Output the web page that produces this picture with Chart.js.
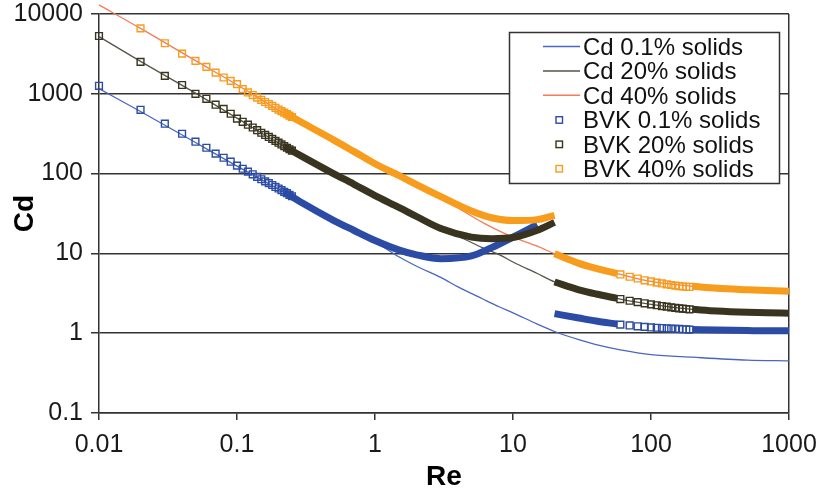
<!DOCTYPE html>
<html>
<head>
<meta charset="utf-8">
<script src="https://cdn.jsdelivr.net/npm/chart.js@4.4.0/dist/chart.umd.min.js"></script>
<style>
  html, body { margin: 0; padding: 0; background: #fff; }
</style>
</head>
<body>
<canvas id="Chart" width="823" height="495"></canvas>
<script>
var xTicks = [0.01, 0.1, 1, 10, 100, 1000];
var yTicks = [0.1, 1, 10, 100, 1000, 10000];

// Cd model curves
var cdRe = [0.01, 0.02, 0.05, 0.1, 0.2, 0.5, 1, 1.5, 2, 3, 4, 6, 8, 10, 15, 20, 30, 40, 60, 100, 200, 500, 1000];
var cd01 = [1160, 600, 245, 124, 64, 27.5, 14, 9.0, 6.9, 5.0, 3.8, 2.7, 2.13, 1.8, 1.3, 1.05, 0.83, 0.72, 0.62, 0.54, 0.5, 0.46, 0.45];
var cd20 = [5200, 2550, 1020, 495, 242, 100, 52, 37.5, 29, 21, 16.5, 11.8, 9.6, 7.8, 5.6, 4.4, 3.5, 3.1, 2.68, 2.3, 1.99, 1.83, 1.77];
var cd40 = [13000, 6600, 2600, 1300, 625, 262, 131, 93, 72, 50, 37, 24.5, 19, 16, 12.3, 9.9, 7.5, 6.5, 5.45, 4.45, 3.87, 3.5, 3.35];

// BVK points at low Re, one every 0.01
var bvkLowRe = [0.01, 0.02, 0.03, 0.04, 0.05, 0.06, 0.07, 0.08, 0.09, 0.1, 0.11, 0.12, 0.13, 0.14, 0.15, 0.16, 0.17, 0.18, 0.19, 0.2, 0.21, 0.22, 0.23, 0.24, 0.25];
var bvkLow01 = [1260, 630, 422, 316, 251, 211, 178, 158, 141, 126, 115, 106, 98, 91, 85, 80, 76, 72, 68, 65, 62, 59, 57, 54, 52];
var bvkLow20 = [5300, 2510, 1680, 1290, 1000, 866, 730, 647, 562, 488, 446, 410, 378, 350, 325, 305, 288, 272, 257, 244, 232, 221, 211, 202, 194];
var bvkLow40 = [null, 6610, 4300, 3190, 2585, 2175, 1845, 1600, 1454, 1320, 1145, 1040, 965, 895, 840, 790, 745, 705, 668, 635, 606, 580, 555, 533, 512];

// BVK points between the dense runs
var bvkMidRe = [60, 70, 80, 90, 100, 110, 120, 130, 140, 150, 160, 170, 180, 190];
var bvkMid01 = [1.28, 1.25, 1.22, 1.2, 1.18, 1.17, 1.16, 1.15, 1.14, 1.13, 1.13, 1.12, 1.12, 1.11];
var bvkMid20 = [2.68, 2.55, 2.45, 2.37, 2.3, 2.24, 2.19, 2.15, 2.11, 2.08, 2.05, 2.03, 2.01, 1.99];
var bvkMid40 = [5.45, 5.1, 4.85, 4.6, 4.45, 4.3, 4.2, 4.1, 4.02, 3.95, 3.9, 3.85, 3.82, 3.8];

// dense runs of BVK points (markers overlap into a solid band)
var band1Re = [0.22, 0.3, 0.5, 0.7, 1, 1.5, 2, 3, 5, 7, 10, 15, 20];
var band1_01 = [59, 42.5, 26, 19.5, 14.5, 11, 9.6, 8.6, 9.3, 11.8, 16, 23, null];
var band1_20 = [219, 162, 100, 74, 53, 37.5, 29, 20.5, 16, 15.3, 15.8, 19.5, 24.5];
var band1_40 = [580, 430, 265, 190, 133, 94, 73, 51.5, 34, 28, 25.8, 26.5, 30];

var band2Re = [20, 30, 40, 57];
var band2_01 = [1.76, 1.55, 1.42, 1.3];
var band2_20 = [4.38, 3.5, 3.1, 2.73];
var band2_40 = [9.9, 7.5, 6.5, 5.57];

var band3Re = [200, 300, 500, 700, 1000];
var band3_01 = [1.11, 1.1, 1.08, 1.07, 1.07];
var band3_20 = [1.99, 1.9, 1.83, 1.8, 1.78];
var band3_40 = [3.87, 3.65, 3.5, 3.42, 3.35];

var blueLine = '#4a66c0', darkLine = '#555548', orangeLine = '#f37c5a';
var blueMark = '#2b4ba5', darkMark = '#39341f', orangeMark = '#f79c1c';
var fontFamily = '"Liberation Sans", Arial, sans-serif';

function pts(xs, ys) {
    return xs.map(function(x, i) { return {x: x, y: ys[i]}; });
}
// join runs, leaving a gap between them
function runs(parts) {
    var out = [];
    parts.forEach(function(p, k) {
        if (k) out.push({x: p[0][0], y: null});
        out = out.concat(pts(p[0], p[1]));
    });
    return out;
}

function cdLine(label, ys, color, order) {
    return {
        label: label, data: pts(cdRe, ys), showLine: true,
        borderColor: color, borderWidth: 1.3, pointRadius: 0,
        cubicInterpolationMode: 'monotone',
        order: order, clip: false
    };
}
function bvkMarks(label, low, mid, color, order) {
    return {
        label: label, data: pts(bvkLowRe, low).concat(pts(bvkMidRe, mid)),
        showLine: false, pointStyle: 'rect', pointRadius: 4.8,
        borderColor: color, backgroundColor: 'rgba(0,0,0,0)', borderWidth: 1.4,
        order: order, clip: false
    };
}
function bvkBand(b1, b2, b3, color, order) {
    return {
        label: '', data: runs([[band1Re, b1], [band2Re, b2], [band3Re, b3]]),
        showLine: true, spanGaps: false, borderColor: color, borderWidth: 7,
        cubicInterpolationMode: 'monotone',
        pointRadius: 0, order: order, clip: false
    };
}

var legendBox = {
    id: 'legendBox',
    afterDraw: function(chart) {
        var c = chart.ctx;
        var items = chart.data.datasets.filter(function(d) { return d.label; });
        c.save();
        c.fillStyle = '#fff';
        c.fillRect(509, 32, 270, 151);
        c.strokeStyle = '#333';
        c.lineWidth = 1.5;
        c.strokeRect(509.5, 32.5, 270, 151);
        c.font = '24px ' + fontFamily;
        c.textBaseline = 'alphabetic';
        items.forEach(function(d, i) {
            var y = 46.5 + i * 24.4;
            c.strokeStyle = d.borderColor;
            if (d.showLine) {
                c.lineWidth = 1.5;
                c.beginPath();
                c.moveTo(543, y);
                c.lineTo(580, y);
                c.stroke();
            } else {
                c.lineWidth = 1.4;
                c.strokeRect(556, y - 3, 6.5, 6.5);
            }
            c.fillStyle = '#111';
            c.fillText(d.label, 583, y + 8.5);
        });
        c.restore();
    }
};

var ctx = document.getElementById('Chart').getContext('2d');
var myChart = new Chart(ctx, {
    type: 'scatter',
    data: {
        datasets: [
            cdLine('Cd 0.1% solids', cd01, blueLine, 6),
            cdLine('Cd 20% solids', cd20, darkLine, 5),
            cdLine('Cd 40% solids', cd40, orangeLine, 4),
            bvkMarks('BVK 0.1% solids', bvkLow01, bvkMid01, blueMark, 3),
            bvkMarks('BVK 20% solids', bvkLow20, bvkMid20, darkMark, 2),
            bvkMarks('BVK 40% solids', bvkLow40, bvkMid40, orangeMark, 1),
            bvkBand(band1_01, band2_01, band3_01, blueMark, 3),
            bvkBand(band1_20, band2_20, band3_20, darkMark, 2),
            bvkBand(band1_40, band2_40, band3_40, orangeMark, 1)
        ]
    },
    options: {
        responsive: false,
        animation: false,
        devicePixelRatio: 1,
        layout: { padding: { left: 0, right: 34, top: 14, bottom: 0 } },
        plugins: {
            legend: { display: false },
            tooltip: { enabled: false }
        },
        events: [],
        scales: {
            x: {
                type: 'logarithmic',
                min: 0.01, max: 1000,
                afterBuildTicks: function(axis) {
                    axis.ticks = xTicks.map(function(v) { return {value: v}; });
                },
                afterFit: function(axis) {
                    axis.height = 82;
                    axis.paddingLeft = 0;
                    axis.paddingRight = 0;
                },
                ticks: {
                    color: '#1a1a1a',
                    font: { family: fontFamily, size: 25 },
                    padding: 10,
                    maxRotation: 0,
                    autoSkip: false,
                    callback: function(v) { return String(v); }
                },
                grid: {
                    drawOnChartArea: true,
                    color: function(c) { return c.tick && c.tick.value === 1000 ? '#333' : 'rgba(0,0,0,0)'; },
                    tickColor: '#333',
                    tickLength: 7,
                    lineWidth: 1.5
                },
                border: { display: true, color: '#333', width: 1.5 },
                title: {
                    display: true, text: 'Re', color: '#000',
                    font: { family: fontFamily, size: 28, weight: 'bold' },
                    padding: { top: 0, bottom: 1 }
                }
            },
            y: {
                type: 'logarithmic',
                min: 0.1, max: 10000,
                afterBuildTicks: function(axis) {
                    axis.ticks = yTicks.map(function(v) { return {value: v}; });
                },
                afterFit: function(axis) {
                    axis.width = 99;
                    axis.paddingTop = 0;
                    axis.paddingBottom = 0;
                },
                ticks: {
                    color: '#1a1a1a',
                    font: { family: fontFamily, size: 25, lineHeight: 1 },
                    padding: 8,
                    autoSkip: false,
                    callback: function(v) { return String(v); }
                },
                grid: { color: '#333', tickLength: 8, lineWidth: 1.5 },
                border: { display: true, color: '#333', width: 1.5 },
                title: {
                    display: true, text: 'Cd', color: '#000',
                    font: { family: fontFamily, size: 28, weight: 'bold' },
                    padding: { top: 8, bottom: 0 }
                }
            }
        }
    },
    plugins: [legendBox]
});
</script>
</body>
</html>
